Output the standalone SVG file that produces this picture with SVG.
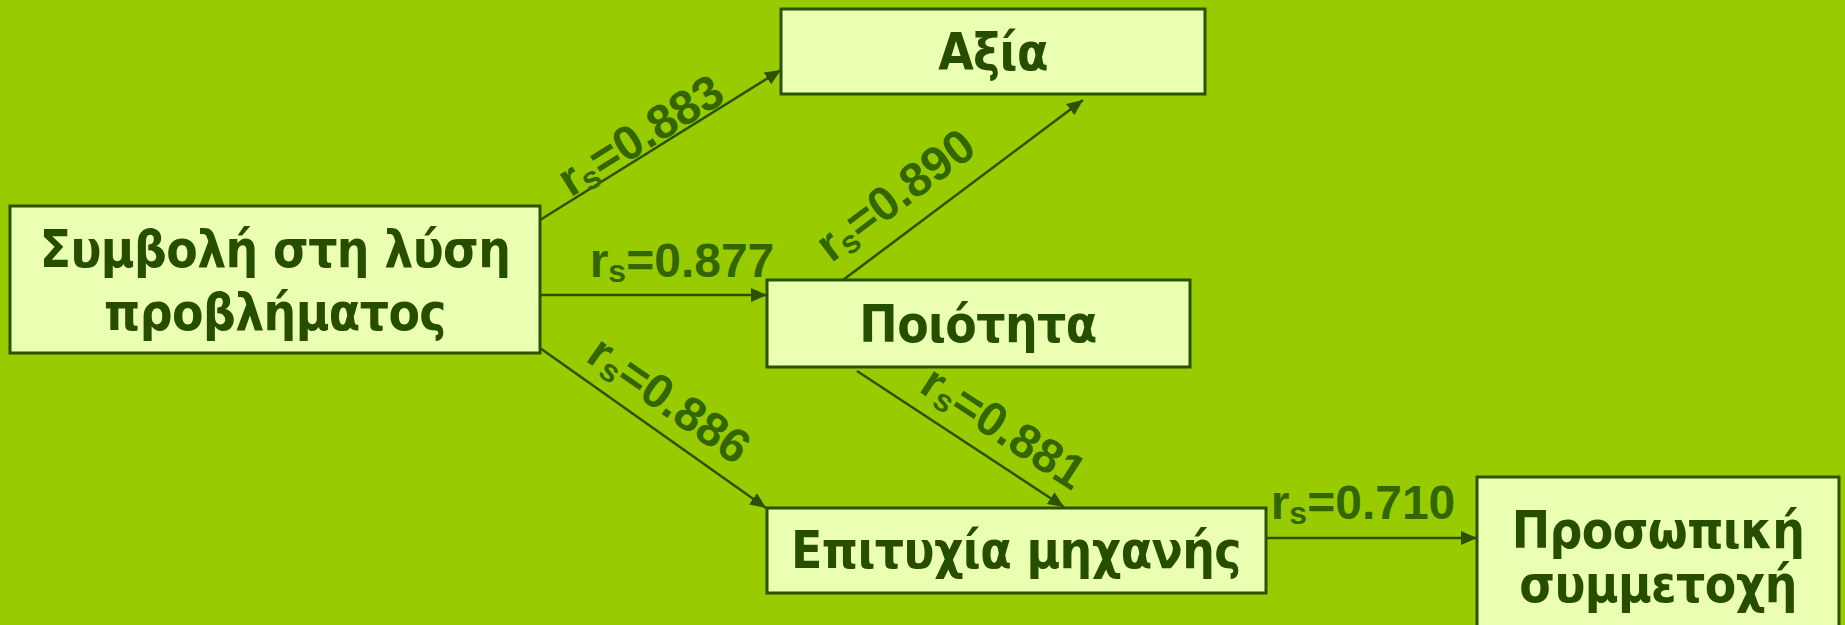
<svg xmlns="http://www.w3.org/2000/svg" width="1845" height="625" viewBox="0 0 1845 625">
<style>
.node rect{fill:#ebffb3;stroke:#2a5200;stroke-width:3}
.node text{font-family:"DejaVu Sans Condensed","Noto Sans",sans-serif;font-stretch:condensed;font-weight:bold;font-size:51px;letter-spacing:-0.6px;fill:#264d00;text-anchor:middle}
.lbl{font-family:"Liberation Sans",Arial,sans-serif;font-weight:bold;font-size:48px;fill:#336600;text-anchor:middle}
.sub{font-size:32px}
.conn line{stroke:#2a5200;stroke-width:2.5;marker-end:url(#ah)}
</style>
<defs>
<marker id="ah" markerUnits="userSpaceOnUse" markerWidth="18" markerHeight="14" refX="16" refY="7" orient="auto">
<path d="M0,0 L16,7 L0,14 Z" fill="#2a5200"/>
</marker>
</defs>
<rect width="1845" height="625" fill="#99cc00"/>
<g class="conn">
<line x1="540" y1="220" x2="781" y2="70"/>
<line x1="540" y1="295" x2="767" y2="295"/>
<line x1="540" y1="348" x2="766" y2="508"/>
<line x1="843" y1="280" x2="1083" y2="100"/>
<line x1="857" y1="371" x2="1064" y2="507"/>
<line x1="1266" y1="538" x2="1477" y2="538"/>
</g>
<g id="labels">
<text class="lbl" x="649" y="149" transform="rotate(-31.8 649 149)">r<tspan class="sub" dy="5">s</tspan><tspan dy="-5">=0.883</tspan></text>
<text class="lbl" x="682" y="277">r<tspan class="sub" dy="5">s</tspan><tspan dy="-5">=0.877</tspan></text>
<text class="lbl" x="905" y="208" transform="rotate(-37 905 208)">r<tspan class="sub" dy="5">s</tspan><tspan dy="-5">=0.890</tspan></text>
<text class="lbl" x="660" y="413" transform="rotate(35 660 413)">r<tspan class="sub" dy="5">s</tspan><tspan dy="-5">=0.886</tspan></text>
<text class="lbl" x="995" y="441" transform="rotate(33 995 441)">r<tspan class="sub" dy="5">s</tspan><tspan dy="-5">=0.881</tspan></text>
<text class="lbl" x="1363" y="519">r<tspan class="sub" dy="5">s</tspan><tspan dy="-5">=0.710</tspan></text>
</g>
<g id="n-symvoli" class="node">
<rect x="10" y="206" width="530" height="147"/>
<text x="275" y="267">Συμβολή στη λύση</text>
<text x="275" y="330">προβλήματος</text>
</g>
<g id="n-axia" class="node">
<rect x="781" y="9" width="424" height="85"/>
<text x="993" y="70">Αξία</text>
</g>
<g id="n-poiotita" class="node">
<rect x="767" y="280" width="423" height="87"/>
<text x="978" y="342">Ποιότητα</text>
</g>
<g id="n-epitychia" class="node">
<rect x="767" y="508" width="499" height="85"/>
<text x="1016" y="568">Επιτυχία μηχανής</text>
</g>
<g id="n-prosopiki" class="node">
<rect x="1477" y="477" width="362" height="160"/>
<text x="1658" y="548">Προσωπική</text>
<text x="1658" y="602">συμμετοχή</text>
</g>
</svg>
